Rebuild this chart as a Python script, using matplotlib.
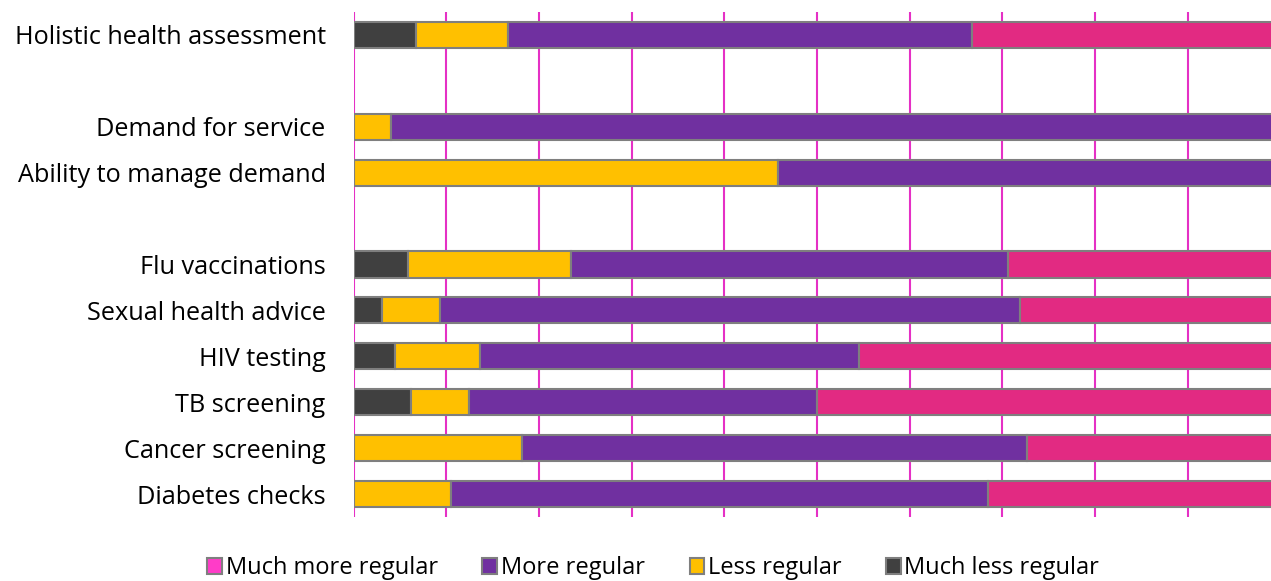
import matplotlib
matplotlib.use("Agg")
import matplotlib.pyplot as plt
from matplotlib.patches import Patch
import numpy as np

categories = ["Holistic health assessment", "", "Demand for service", "Ability to manage demand", "",
              "Flu vaccinations", "Sexual health advice", "HIV testing", "TB screening",
              "Cancer screening", "Diabetes checks"]
much_less = [6.7, 0, 0, 0, 0, 5.9, 3.1, 4.5, 6.25, 0, 0]
less = [10.0, 0, 4.0, 45.8, 0, 17.6, 6.25, 9.1, 6.25, 18.2, 10.5]
more = [50.0, 0, 96.0, 54.2, 0, 47.1, 62.5, 40.9, 37.5, 54.5, 57.9]
much_more = [33.3, 0, 0, 0, 0, 29.4, 28.1, 45.5, 50.0, 27.3, 31.6]

series_names = ["Much less regular", "Less regular", "More regular", "Much more regular"]
series_colors = ["#404040", "#FFC000", "#7030A0", "#E22A82"]
legend_colors = {"Much more regular": "#FF3CC8", "More regular": "#7030A0",
                 "Less regular": "#FFC000", "Much less regular": "#404040"}

fig = plt.figure(figsize=(12.71, 5.81), dpi=100)
ax = fig.add_axes([353.5 / 1271, 1 - 517 / 581, 927 / 1271, (517 - 12) / 581])

y = np.arange(len(categories))
left = np.zeros(len(categories))
for name, vals, col in zip(series_names, [much_less, less, more, much_more], series_colors):
    vals = np.array(vals, dtype=float)
    mask = vals > 0
    ax.barh(y[mask], vals[mask], left=left[mask], height=0.57, color=col,
            edgecolor="#7F7F7F", linewidth=1.5, zorder=3)
    left += vals

ax.set_xlim(0, 100)
ax.set_ylim(len(categories) - 0.5, -0.5)
ax.set_xticks(np.arange(0, 101, 10))
ax.xaxis.grid(True, color="#E530C5", linewidth=1.5, zorder=0)
ax.tick_params(axis="x", length=0, labelbottom=False)
ax.tick_params(axis="y", length=0, pad=20)
ax.set_yticks(y)
ax.set_yticklabels(categories, fontsize=18.2, family="Open Sans")
for s in ax.spines.values():
    s.set_visible(False)

order = ["Much more regular", "More regular", "Less regular", "Much less regular"]
handles = [Patch(facecolor=legend_colors[n], edgecolor="#7F7F7F", linewidth=1.5, label=n) for n in order]
fig.legend(handles=handles, loc="center", bbox_to_anchor=(0.514, 0.022), ncol=4, frameon=False,
           prop={"family": "Open Sans", "size": 17}, handlelength=0.62, handleheight=0.62,
           handletextpad=0.15, columnspacing=1.9, borderpad=0)

fig.savefig("out.png", dpi=100)
